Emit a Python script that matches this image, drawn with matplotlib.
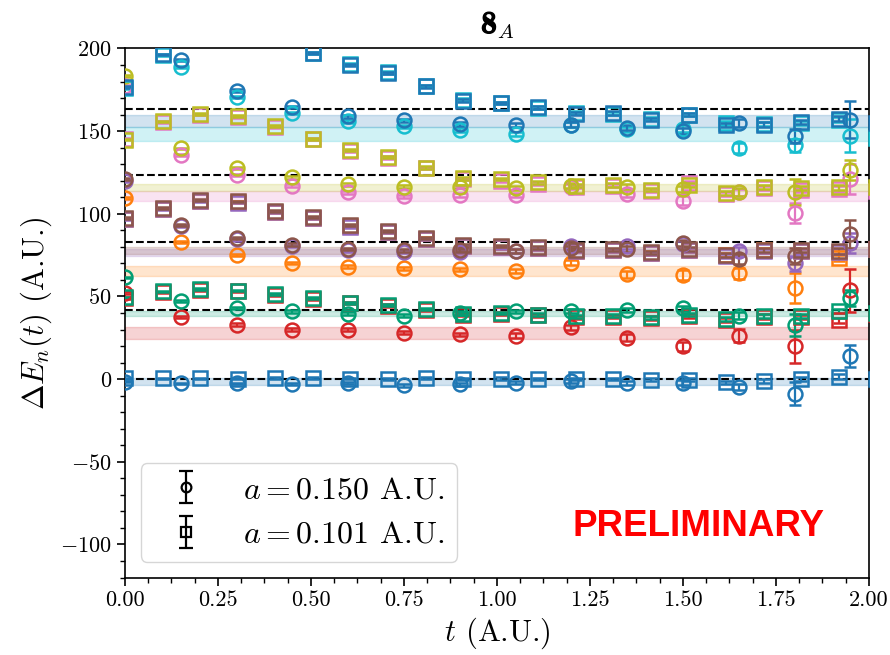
import numpy as np
import matplotlib
matplotlib.use("Agg")
import matplotlib.pyplot as plt
import matplotlib.patheffects as pe
from matplotlib.ticker import AutoMinorLocator, MultipleLocator

plt.rcParams['font.family'] = 'serif'
plt.rcParams['font.serif'] = ['cmr10']
plt.rcParams['mathtext.fontset'] = 'cm'
plt.rcParams['axes.formatter.use_mathtext'] = True
plt.rcParams['axes.unicode_minus'] = True

nan = np.nan

# time slices for the two lattice spacings
t_coarse = [0.0, 0.15, 0.30, 0.45, 0.60, 0.75, 0.90, 1.05, 1.20, 1.35, 1.50, 1.65, 1.80, 1.95]
t_fine = [0.0, 0.101, 0.202, 0.303, 0.404, 0.505, 0.606, 0.707, 0.808, 0.909, 1.01,
          1.111, 1.212, 1.313, 1.414, 1.515, 1.616, 1.717, 1.818, 1.919, 2.02]

# non-interacting levels (dashed)
free_levels = [0.0, 41.7, 82.8, 123.4, 163.6]

# level 0 (blue)
blue0_c = [-1.5, -2.6, -2.6, -3.2, -2.6, -3.8, -3.2, -2.2, -1.2, -2.6, -2.2, -4.8, -8.7, 13.9]
blue0_ce = [0.5, 0.5, 0.5, 0.6, 0.6, 0.7, 0.8, 0.9, 1.0, 1.2, 1.5, 2.0, 6.8, 6.8]
blue0_f = [0.5, 0.5, 0.5, 0.3, 0.5, 0.5, 0.3, 0.0, 0.5, 0.0, 0.3, 0.0, 0.0, 0.0, -0.3, -0.3,
           -2.0, -1.0, -0.2, 1.4, 0.0]
blue0_fe = [0.4, 0.4, 0.4, 0.4, 0.5, 0.5, 0.5, 0.5, 0.6, 0.6, 0.7, 0.7, 0.8, 0.8, 0.9, 1.0,
            1.0, 1.1, 1.2, 1.4, 1.5]
blue0_band = (-3.6, 0.4)

# orange
orange_c = [109.5, 83.0, 75.0, 70.3, 68.0, 67.0, 66.4, 65.4, 70.3, 63.4, 63.0, 64.0, 55.0, nan]
orange_ce = [0.5, 0.6, 0.7, 0.8, 0.9, 1.0, 1.1, 1.2, 1.5, 2.0, 3.0, 3.5, 9.0, nan]
orange_f = [97.0, 103.0, 108.0, 107.0, 101.0, 97.5, 92.5, 89.0, 85.0, 80.5, 79.8, 79.3, 77.7,
            78.0, 76.2, 78.0, 74.8, 77.8, 77.5, 73.3, 78.5]
orange_fe = [0.4, 0.4, 0.5, 0.5, 0.5, 0.6, 0.6, 0.7, 0.7, 0.8, 0.8, 0.9, 0.9, 1.0, 1.0, 1.1,
             1.2, 1.3, 1.4, 1.6, 1.8]
orange_band = (62.5, 68.3)

# green
green_c = [61.5, 47.0, 43.0, 41.0, 39.5, 38.3, 40.0, 41.0, 41.0, 42.0, 43.0, 38.3, 32.8, 49.0]
green_ce = [0.5, 0.6, 0.7, 0.8, 0.8, 1.0, 1.0, 1.0, 1.2, 1.2, 1.5, 2.0, 6.5, 5.0]
green_f = [49.5, 53.0, 54.5, 53.5, 51.5, 49.0, 46.3, 45.0, 42.3, 39.6, 40.0, 38.9, 37.9, 38.3,
           37.5, 38.9, 36.3, 38.3, 38.3, 41.2, 40.0]
green_fe = [0.4, 0.4, 0.4, 0.5, 0.5, 0.5, 0.6, 0.6, 0.6, 0.7, 0.7, 0.8, 0.8, 0.9, 0.9, 1.0,
            1.0, 1.1, 1.2, 1.3, 1.5]
green_band = (38.2, 41.3)

# red
red_c = [52.0, 37.5, 33.0, 30.0, 30.0, 28.0, 27.0, 26.3, 31.5, 25.0, 19.8, 26.3, 20.0, 53.7]
red_ce = [0.5, 0.6, 0.7, 0.8, 0.9, 1.0, 1.2, 1.3, 1.5, 2.0, 2.8, 4.0, 10.0, 13.0]
red_f = [49.0, 52.5, 54.0, 53.0, 51.0, 48.5, 46.0, 44.5, 42.0, 39.0, 39.5, 38.5, 37.3, 37.8,
         37.0, 38.3, 35.8, 37.8, 37.5, 35.5, 39.5]
red_fe = [0.4, 0.4, 0.5, 0.5, 0.5, 0.6, 0.6, 0.7, 0.7, 0.8, 0.8, 0.9, 0.9, 1.0, 1.0, 1.1,
          1.2, 1.3, 1.4, 1.6, 1.8]
red_band = (24.2, 31.7)

# purple
purple_c = [120.0, 92.5, 84.5, 80.5, 78.0, 77.0, 77.0, 77.5, 80.6, 80.8, 81.5, 77.2, 70.0, 82.2]
purple_ce = [0.5, 0.6, 0.7, 0.8, 0.9, 1.0, 1.1, 1.2, 1.4, 1.8, 2.0, 2.5, 4.5, 6.0]
purple_f = [96.8, 102.8, 107.8, 106.8, 100.8, 97.3, 92.3, 88.8, 84.8, 80.3, 79.8, 79.2, 77.6,
            77.9, 76.0, 78.0, 74.6, 77.6, 77.3, 77.0, 78.5]
purple_fe = [0.4, 0.4, 0.5, 0.5, 0.5, 0.6, 0.6, 0.7, 0.7, 0.8, 0.8, 0.9, 0.9, 1.0, 1.0, 1.1,
             1.2, 1.3, 1.4, 1.6, 1.8]
purple_band = (74.5, 79.0)

# brown
brown_c = [121.2, 93.3, 85.3, 81.3, 78.7, 77.9, 77.9, 77.3, 79.3, 78.7, 82.4, 72.7, 74.5, 88.0]
brown_ce = [0.5, 0.6, 0.7, 0.8, 0.9, 1.0, 1.1, 1.2, 1.4, 1.8, 2.0, 3.0, 5.0, 8.5]
brown_f = [97.4, 103.5, 108.5, 107.5, 101.5, 98.0, 93.0, 89.5, 85.5, 81.0, 80.6, 79.8, 78.2,
           78.6, 76.6, 78.6, 75.2, 78.2, 78.0, 77.5, 79.0]
brown_fe = [0.4, 0.4, 0.5, 0.5, 0.5, 0.6, 0.6, 0.7, 0.7, 0.8, 0.8, 0.9, 0.9, 1.0, 1.0, 1.1,
            1.2, 1.3, 1.4, 1.6, 1.8]
brown_band = (75.8, 80.2)

# pink
pink_c = [177.5, 135.5, 123.5, 117.0, 113.0, 110.5, 111.5, 111.5, 116.5, 112.0, 108.0, 113.0,
          100.5, 121.0]
pink_ce = [0.5, 0.6, 0.7, 0.8, 0.9, 1.0, 1.1, 1.2, 1.5, 1.8, 2.5, 2.0, 6.0, 9.0]
pink_f = [145.5, 155.5, 160.0, 158.3, 152.3, 145.0, 138.0, 134.0, 127.5, 121.0, 120.0, 118.3,
          116.5, 117.0, 114.0, 118.6, 112.0, 115.5, 114.5, 115.0, 113.5]
pink_fe = [0.4, 0.4, 0.5, 0.5, 0.5, 0.6, 0.6, 0.7, 0.7, 0.8, 0.8, 0.9, 0.9, 1.0, 1.0, 1.1,
           1.2, 1.3, 1.4, 1.6, 1.8]
pink_band = (108.0, 113.5)

# olive
olive_c = [183.2, 139.5, 127.5, 122.0, 118.0, 116.5, 116.5, 115.5, 117.0, 116.5, 115.0, 113.2,
           113.2, 126.5]
olive_ce = [0.5, 0.6, 0.7, 0.8, 0.9, 1.0, 1.1, 1.2, 1.4, 1.6, 2.0, 2.5, 8.0, 6.0]
olive_f = [144.8, 156.0, 160.5, 159.0, 153.0, 145.5, 138.5, 134.5, 128.0, 121.5, 121.0, 119.0,
           117.0, 117.5, 114.5, 117.5, 112.5, 116.0, 115.5, 116.0, 116.5]
olive_fe = [0.4, 0.4, 0.5, 0.5, 0.5, 0.6, 0.6, 0.7, 0.7, 0.8, 0.8, 0.9, 0.9, 1.0, 1.0, 1.1,
            1.2, 1.3, 1.4, 1.6, 1.8]
olive_band = (113.5, 118.0)

# cyan
cyan_c = [nan, 189.0, 170.5, 161.0, 156.0, 153.0, 150.5, 148.5, 154.0, 151.0, 151.5, 140.0,
          141.5, 147.3]
cyan_ce = [nan, 0.6, 0.7, 0.8, 0.9, 1.0, 1.1, 1.2, 1.4, 1.6, 2.0, 3.0, 4.0, 10.0]
cyan_f = [176.0, 196.0, nan, nan, nan, 197.5, 190.5, 185.5, 177.5, 169.0, 167.0, 164.0, 161.0,
          160.5, 157.5, 160.0, 155.0, 154.5, 155.0, 157.0, 146.0]
cyan_fe = [0.4, 0.4, 0.5, 0.5, 0.5, 0.6, 0.6, 0.7, 0.7, 0.8, 0.8, 0.9, 0.9, 1.0, 1.0, 1.1,
           1.2, 1.3, 1.4, 1.6, 1.8]
cyan_band = (143.8, 152.5)

# upper blue
blue1_c = [nan, 193.0, 174.5, 164.5, 159.0, 156.5, 154.5, 154.0, 154.0, 152.0, 150.0, 155.0,
           147.0, 157.0]
blue1_ce = [nan, 0.6, 0.7, 0.8, 0.9, 1.0, 1.1, 1.2, 1.4, 1.6, 2.0, 2.5, 4.0, 11.0]
blue1_f = [176.6, 196.5, nan, nan, nan, 197.0, 190.0, 185.0, 177.0, 168.5, 167.0, 164.5, 160.5,
           161.0, 157.0, 160.0, 154.0, 154.0, 155.5, 157.5, 155.0]
blue1_fe = [0.4, 0.4, 0.5, 0.5, 0.5, 0.6, 0.6, 0.7, 0.7, 0.8, 0.8, 0.9, 0.9, 1.0, 1.0, 1.1,
            1.2, 1.3, 1.4, 1.6, 1.8]
blue1_band = (152.5, 159.5)

series = [
    ('#1f77b4', blue0_c, blue0_ce, blue0_f, blue0_fe, blue0_band),
    ('#ff7f0e', orange_c, orange_ce, orange_f, orange_fe, orange_band),
    ('#d62728', red_c, red_ce, red_f, red_fe, red_band),
    ('#029e73', green_c, green_ce, green_f, green_fe, green_band),
    ('#9467bd', purple_c, purple_ce, purple_f, purple_fe, purple_band),
    ('#8c564b', brown_c, brown_ce, brown_f, brown_fe, brown_band),
    ('#e377c2', pink_c, pink_ce, pink_f, pink_fe, pink_band),
    ('#bcbd22', olive_c, olive_ce, olive_f, olive_fe, olive_band),
    ('#17becf', cyan_c, cyan_ce, cyan_f, cyan_fe, cyan_band),
    ('#1f77b4', blue1_c, blue1_ce, blue1_f, blue1_fe, blue1_band),
]

fig = plt.figure(figsize=(8.9, 6.55), dpi=100)
ax = fig.add_axes([0.1404, 0.1183, 0.836, 0.8077])

for col, yc, ec, yf, ef, band in series:
    ax.axhspan(band[0], band[1], facecolor=col, edgecolor=col, alpha=0.2, lw=1.0, zorder=1)

for lev in free_levels:
    ax.axhline(lev, color='k', ls='--', lw=1.5, zorder=2)

eb = dict(mfc='none', capsize=4.5, elinewidth=1.6, capthick=1.6, mew=1.8, zorder=3)
for col, yc, ec, yf, ef, band in series:
    ax.errorbar(t_coarse, yc, yerr=ec, fmt='o', color=col, ms=10, **eb)
    ax.errorbar(t_fine, yf, yerr=ef, fmt='s', color=col, ms=9.5, **eb)

# legend proxies
h1 = ax.errorbar([nan], [nan], yerr=[1], fmt='o', color='k', mfc='none', ms=7, mew=1.6,
                 capsize=5, elinewidth=1.6, capthick=1.6, label=r'$a = 0.150$ A.U.')
h2 = ax.errorbar([nan], [nan], yerr=[1], fmt='s', color='k', mfc='none', ms=7, mew=1.6,
                 capsize=5, elinewidth=1.6, capthick=1.6, label=r'$a = 0.101$ A.U.')
ax.legend(handles=[h1, h2], loc='lower left', fontsize=23)

ax.text(0.771, 0.096, 'PRELIMINARY', transform=ax.transAxes, color='red', fontsize=26.5,
        fontweight='bold', family='Liberation Sans', ha='center', va='center')

ax.set_xlim(0, 2.0)
ax.set_ylim(-120, 200)
ax.xaxis.set_major_locator(MultipleLocator(0.25))
ax.xaxis.set_minor_locator(AutoMinorLocator(4))
ax.yaxis.set_major_locator(MultipleLocator(50))
ax.yaxis.set_minor_locator(AutoMinorLocator(5))
ax.xaxis.set_major_formatter(plt.FormatStrFormatter('%.2f'))
ax.tick_params(labelsize=16, width=1.2, length=6)
ax.tick_params(which='minor', width=1.0, length=3.5)
for sp in ax.spines.values():
    sp.set_linewidth(1.2)

ax.set_xlabel(r'$t$ (A.U.)', fontsize=22)
ax.set_ylabel(r'$\Delta E_n(t)$ (A.U.)', fontsize=22)

# title: bold 8 with italic subscript A
fig.text(0.5584, 0.9496, '8', family='cmb10', fontsize=23, ha='right', va='baseline',
         path_effects=[pe.withStroke(linewidth=0.9, foreground='black')])
fig.text(0.5584, 0.9420, r'$A$', fontsize=15, ha='left', va='baseline')

fig.savefig('out.png', dpi=100)
